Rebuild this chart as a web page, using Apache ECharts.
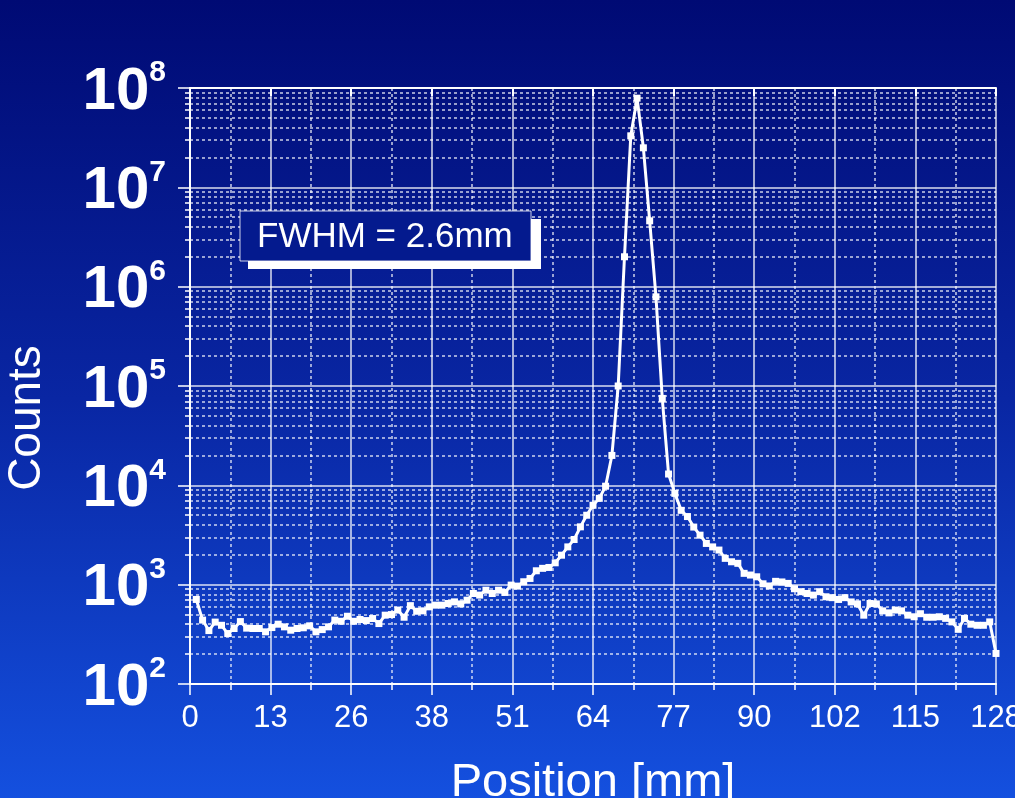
<!DOCTYPE html>
<html>
<head>
<meta charset="utf-8">
<title>Counts vs Position</title>
<script src="https://cdn.jsdelivr.net/npm/echarts@6/dist/echarts.min.js"></script>
<style>
  html, body { margin: 0; padding: 0; }
  #chart { width: 1015px; height: 798px; }
</style>
</head>
<body>
<div id="chart"></div>
<script>
// 计数值, 每 1 mm 一个点 (位置 1..128)
var counts = [
  710, 440, 345, 420, 390, 322, 362, 425, 365, 362,
  362, 335, 370, 400, 376, 348, 362, 368, 385, 335,
  353, 376, 440, 428, 481, 428, 446, 435, 456, 406,
  493, 500, 555, 470, 615, 540, 545, 598, 622, 622,
  646, 671, 640, 698, 815, 785, 880, 815, 880, 835,
  990, 967, 1070, 1155, 1380, 1460, 1490, 1660, 1980, 2400,
  2850, 3820, 5000, 6300, 7400, 9800, 20000, 100000, 2000000, 33000000,
  79000000, 25000000, 4600000, 790000, 75000, 13000, 8300, 5600, 4850, 3800,
  3150, 2600, 2400, 2230, 1840, 1700, 1640, 1300, 1250, 1200,
  1020, 970, 1080, 1065, 1030, 910, 850, 815, 785, 850,
  755, 740, 710, 740, 670, 640, 493, 646, 640, 545,
  520, 555, 545, 493, 475, 510, 470, 470, 475, 458,
  422, 355, 458, 400, 390, 390, 422, 203
];
// 位置 (mm)
var positions = [];
for (var i = 1; i <= counts.length; i++) positions.push(i);

// x 轴刻度 (128 / 10)
var xMin = 0, xMax = 128, xStep = 12.8;
// y 轴范围 10^2 .. 10^8
var yMin = 100, yMax = 100000000;
var fwhmText = 'FWHM = 2.6mm';

var font = '"Liberation Sans", Arial, sans-serif';
var solid = 'rgba(255,255,255,0.85)';
var dotted = 'rgba(255,255,255,0.8)';

var chart = echarts.init(document.getElementById('chart'));
chart.setOption({
  backgroundColor: {
    type: 'linear', x: 0, y: 0, x2: 0, y2: 1,
    colorStops: [
      { offset: 0, color: '#000a74' },
      { offset: 0.5, color: '#0926a3' },
      { offset: 1, color: '#1450df' }
    ]
  },
  animation: false,
  grid: { left: 190, right: 19, top: 88, bottom: 114, outerBoundsMode: 'none', containLabel: false },
  xAxis: [
    {
      type: 'value',
      min: xMin, max: xMax, interval: xStep,
      name: 'Position [mm]',
      nameLocation: 'middle',
      nameGap: 76,
      nameTextStyle: { color: '#fff', fontSize: 47, fontFamily: font },
      axisLine: { show: true, lineStyle: { color: '#fff', width: 2 } },
      axisTick: { show: true, length: 11, lineStyle: { color: '#fff', width: 1.5 } },
      minorTick: { show: true, splitNumber: 2, length: 6, lineStyle: { color: '#fff', width: 1.5 } },
      axisLabel: {
        color: '#fff', fontSize: 31, fontFamily: font, margin: 19,
        formatter: function (v) { return Math.round(v); }
      },
      splitLine: { show: true, lineStyle: { color: solid, width: 1.5 } },
      minorSplitLine: { show: true, lineStyle: { color: dotted, width: 1.5, type: [3, 3] } }
    },
    {
      type: 'value', position: 'top',
      min: xMin, max: xMax, interval: xStep,
      axisLine: { show: true, lineStyle: { color: '#fff', width: 2 } },
      axisTick: { show: true, inside: true, length: 8, lineStyle: { color: '#fff', width: 2 } },
      axisLabel: { show: false },
      splitLine: { show: false }
    }
  ],
  yAxis: [
    {
      type: 'log',
      min: yMin, max: yMax, logBase: 10, splitNumber: 6,
      name: 'Counts',
      nameLocation: 'middle',
      nameGap: 140,
      nameRotate: 90,
      nameTextStyle: { color: '#fff', fontSize: 46, fontFamily: font, padding: [0, 64, 0, 0] },
      axisLine: { show: true, lineStyle: { color: '#fff', width: 2 } },
      axisTick: { show: true, length: 12, lineStyle: { color: '#fff', width: 1.5 } },
      minorTick: { show: true, splitNumber: 9, length: 5, lineStyle: { color: '#fff', width: 1.5 } },
      axisLabel: {
        margin: 24,
        formatter: function (v) {
          var e = Math.round(Math.log(v) / Math.LN10);
          return '{b|10}{s|' + e + '}';
        },
        rich: {
          b: { color: '#fff', fontSize: 60, fontWeight: 'bold', fontFamily: font, lineHeight: 60, padding: [8, 0, 0, 0] },
          s: { color: '#fff', fontSize: 30, fontWeight: 'bold', fontFamily: font, verticalAlign: 'top', lineHeight: 30 }
        }
      },
      splitLine: { show: true, lineStyle: { color: solid, width: 1.5 } },
      minorSplitLine: { show: true, lineStyle: { color: dotted, width: 1.5, type: [3, 3] } }
    },
    {
      type: 'log', position: 'right',
      min: yMin, max: yMax, logBase: 10, splitNumber: 6,
      axisLine: { show: true, lineStyle: { color: '#fff', width: 2 } },
      axisTick: { show: true, inside: true, length: 8, lineStyle: { color: '#fff', width: 1.5 } },
      minorTick: { show: true, splitNumber: 9, length: 5, lineStyle: { color: '#fff', width: 1.5 } },
      axisLabel: { show: false },
      splitLine: { show: false }
    }
  ],
  series: [
    {
      name: 'Counts',
      type: 'line',
      data: positions.map(function (p, i) { return [p, counts[i]]; }),
      symbol: 'rect',
      symbolSize: 7,
      showSymbol: true,
      lineStyle: { color: '#fff', width: 3 },
      itemStyle: { color: '#fff' },
      z: 5
    }
  ],
  graphic: [
    {
      type: 'rect', z: 10,
      shape: { x: 248, y: 219, width: 293, height: 50 },
      style: { fill: '#ffffff' }
    },
    {
      type: 'rect', z: 11,
      shape: { x: 240, y: 211, width: 291, height: 50 },
      style: { fill: '#041a8e', stroke: 'rgba(255,255,255,0.8)', lineWidth: 1 }
    },
    {
      type: 'text', z: 12,
      left: 257, top: 220,
      style: { text: fwhmText, fill: '#fff', font: '35px ' + font }
    }
  ]
});
</script>
</body>
</html>
